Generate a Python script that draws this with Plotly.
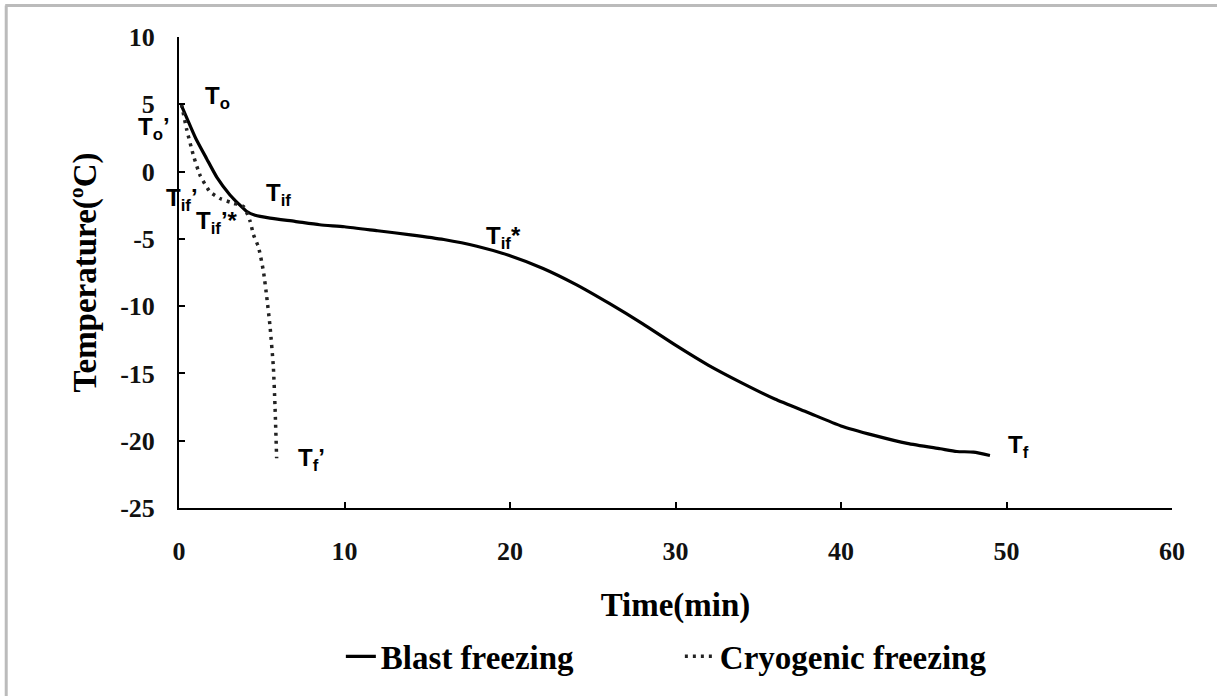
import plotly.graph_objects as go

# Blast freezing (solid)
blast_time = [0.15, 0.5, 1.0, 1.67, 2.3, 3.08, 3.6, 4.1, 4.6, 5.5, 7.0, 8.5, 10, 12, 14, 16, 18, 20,
              22, 24, 26, 28, 30, 32, 34, 36, 38, 40, 42, 44, 46, 47, 48, 49]
blast_temp = [4.9, 3.9, 2.5, 0.96, -0.45, -1.74, -2.4, -2.97, -3.25, -3.46, -3.7, -3.95, -4.1, -4.4,
              -4.7, -5.05, -5.55, -6.25, -7.2, -8.4, -9.8, -11.3, -12.9, -14.4, -15.7, -16.9,
              -17.9, -18.9, -19.6, -20.2, -20.6, -20.8, -20.85, -21.1]

# Cryogenic freezing (dotted)
cryo_time = [0.15, 0.46, 0.87, 1.27, 1.87, 2.48, 3.28, 3.9, 4.3, 4.5, 4.8, 5.1, 5.3, 5.5, 5.7, 5.8, 5.9]
cryo_temp = [5.0, 3.16, 1.2, -0.27, -1.5, -2.0, -2.35, -2.6, -3.7, -4.7, -5.6, -7.4, -9.3, -11.5,
             -14.5, -17.4, -21.3]

x_ticks = [0, 10, 20, 30, 40, 50, 60]
y_ticks = [10, 5, 0, -5, -10, -15, -20, -25]

label_text = ["T<sub>o</sub>", "T<sub>o</sub>\u2019", "T<sub>if</sub>\u2019", "T<sub>if</sub>",
              "T<sub>if</sub>\u2019*", "T<sub>if</sub>*", "T<sub>f</sub>", "T<sub>f</sub>\u2019"]
label_x = [2.3, -1.5, 0.2, 6.0, 2.3, 19.6, 50.7, 8.0]
label_y = [5.5, 3.2, -2.1, -1.7, -3.8, -4.9, -20.4, -21.4]

X_MIN, X_MAX = 0, 60

fig = go.Figure()
fig.add_trace(go.Scatter(x=blast_time, y=blast_temp, mode="lines", name="Blast freezing",
                         line=dict(color="black", width=3.2, shape="spline", smoothing=0.6)))
fig.add_trace(go.Scatter(x=cryo_time, y=cryo_temp, mode="lines", name="Cryogenic freezing",
                         line=dict(color="#222", width=3.5, dash="3px,5px", shape="spline", smoothing=0.5)))

for t, x, y in zip(label_text, label_x, label_y):
    fig.add_annotation(x=(x - X_MIN) / (X_MAX - X_MIN), xref="paper", y=y, yref="y",
                       xanchor="center", yanchor="middle",
                       text="<b>" + t + "</b>", showarrow=False,
                       font=dict(family="Liberation Sans", size=24, color="black"))

fig.update_layout(
    width=1217, height=696,
    margin=dict(l=179, r=45, t=37, b=183),
    paper_bgcolor="white", plot_bgcolor="white",
    showlegend=True,
    legend=dict(orientation="h", x=0.163, y=-0.315, xanchor="left", yanchor="middle",
                font=dict(family="Liberation Serif", size=33, color="black", weight="bold"),
                entrywidth=294, entrywidthmode="pixels", bgcolor="rgba(0,0,0,0)"),
    xaxis=dict(range=[X_MIN, X_MAX], tickmode="array", tickvals=x_ticks,
               ticktext=[str(v) for v in x_ticks], showline=True, linecolor="black", linewidth=2,
               ticks="inside", ticklen=6, tickwidth=2, tickcolor="black", showgrid=False,
               zeroline=False, ticklabelstandoff=19,
               tickfont=dict(family="Liberation Serif", size=26, color="#111", weight="bold"),
               title=dict(text="<b>Time(min)</b>", standoff=28,
                          font=dict(family="Liberation Serif", size=33, color="black"))),
    yaxis=dict(range=[-25, 10], tickmode="array", tickvals=y_ticks,
               ticktext=[str(v) for v in y_ticks], showline=True, linecolor="black", linewidth=2,
               ticks="inside", ticklen=6, tickwidth=2, tickcolor="black", showgrid=False,
               zeroline=False, ticklabelstandoff=17,
               tickfont=dict(family="Liberation Serif", size=26, color="#111", weight="bold"),
               title=dict(text="<b>Temperature(\u00baC)</b>", standoff=14,
                          font=dict(family="Liberation Serif", size=33, color="black"))),
    shapes=[
        dict(type="line", xref="paper", yref="paper", x0=-0.175, x1=1.1, y0=1.067, y1=1.067,
             line=dict(color="#bbbbbb", width=3)),
        dict(type="line", xref="paper", yref="paper", x0=-0.174, x1=-0.174, y0=-0.4, y1=1.067,
             line=dict(color="#bbbbbb", width=3)),
    ],
)

fig.write_html("out.html")
